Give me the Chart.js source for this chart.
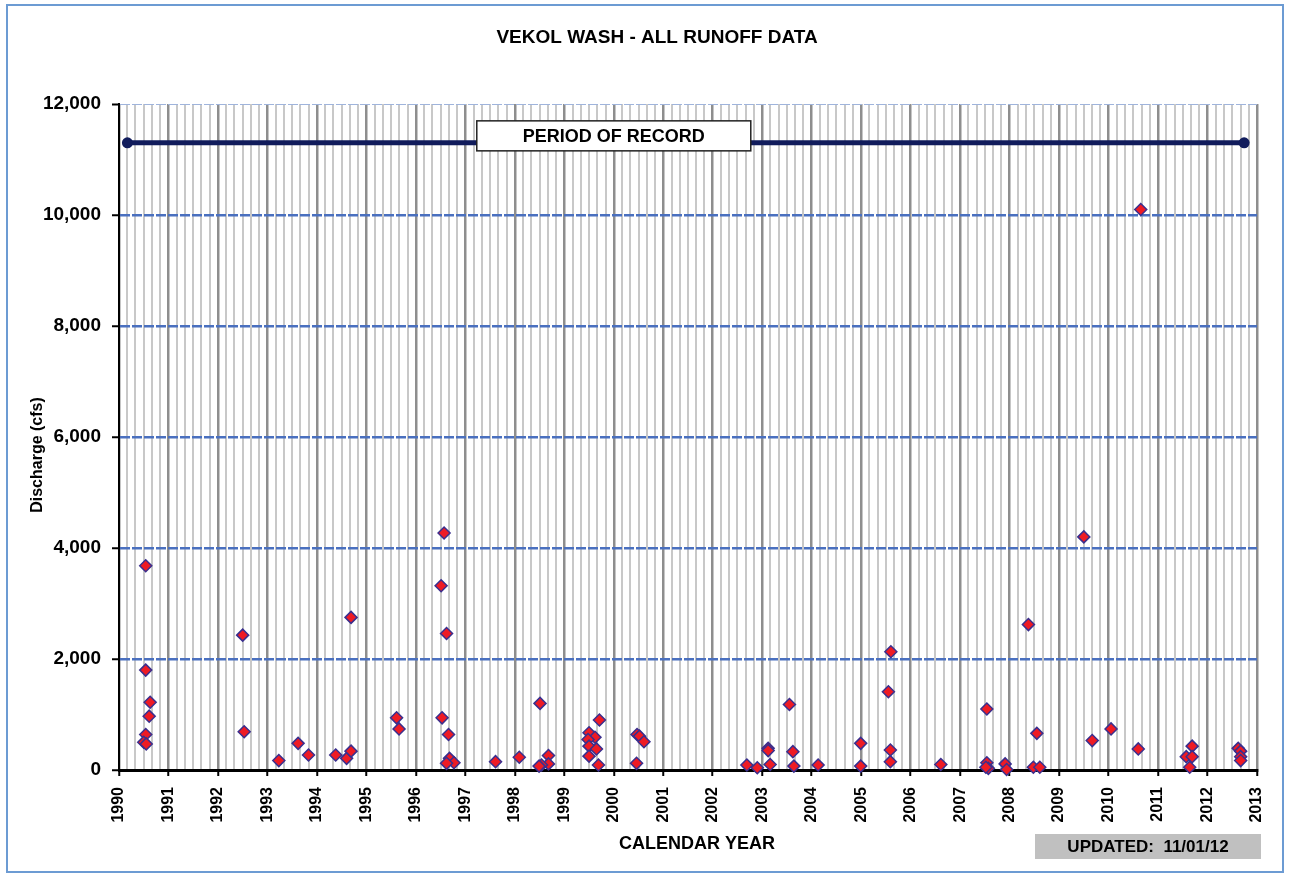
<!DOCTYPE html>
<html>
<head>
<meta charset="utf-8">
<title>Vekol Wash - All Runoff Data</title>
<script src="https://cdn.jsdelivr.net/npm/chart.js@4.4.1/dist/chart.umd.min.js"></script>
<style>
    html, body { margin: 0; padding: 0; background: #fff; }
    #wrap { position: relative; width: 1289px; height: 877px; }
    #frame { position: absolute; left: 6px; top: 4px; width: 1274px; height: 865px; border: 2px solid #6c9bd3; pointer-events: none; }
</style>
</head>
<body>
<div id="wrap">
    <canvas id="runoffChart" width="1289" height="877"></canvas>
    <div id="frame"></div>
</div>
<script>
// runoff events: decimal year and peak discharge (cfs)
const eventYears = [
    1990.54, 1990.54, 1990.63, 1990.61, 1990.54, 1990.50, 1990.55,
    1992.50, 1992.53,
    1993.23, 1993.62, 1993.83,
    1994.38, 1994.60, 1994.69, 1994.69,
    1995.61, 1995.66,
    1996.51, 1996.57, 1996.62, 1996.53, 1996.66, 1996.68, 1996.77, 1996.62,
    1997.61,
    1998.09, 1998.51, 1998.68, 1998.68, 1998.54, 1998.49,
    1999.71, 1999.50, 1999.62, 1999.48, 1999.50, 1999.65, 1999.50, 1999.69,
    2000.47, 2000.52, 2000.61, 2000.46,
    2002.69, 2002.90,
    2003.12, 2003.12, 2003.16, 2003.55, 2003.62, 2003.64,
    2004.13,
    2004.99, 2004.99,
    2005.60, 2005.55, 2005.59, 2005.59,
    2006.61,
    2007.54, 2007.54, 2007.57, 2007.52, 2007.91, 2007.94,
    2008.38, 2008.55, 2008.48, 2008.61,
    2009.50, 2009.67,
    2010.05, 2010.60, 2010.65,
    2011.57, 2011.69, 2011.69, 2011.64,
    2012.62, 2012.67, 2012.67, 2012.67
];
const peakFlows = [
    3680, 1800, 1220, 970, 640, 500, 470,
    2430, 690,
    170, 480, 270,
    270, 210, 340, 2750,
    940, 740,
    3320, 4270, 2460, 940, 640, 210, 130, 120,
    150,
    230, 1200, 260, 110, 90, 70,
    900, 670, 590, 550, 430, 380, 250, 90,
    640, 610, 510, 120,
    90, 40,
    390, 350, 100, 1180, 330, 70,
    90,
    480, 70,
    2130, 1410, 360, 150,
    100,
    1100, 130, 30, 50, 110, 10,
    2620, 660, 50, 50,
    4200, 530,
    740, 380, 10100,
    240, 430, 240, 50,
    390, 340, 240, 170
];

// period of record bar
const recordStart = 1990.17;
const recordEnd = 2012.74;
const recordLevel = 11300;
const recordLabelAt = 2000;

const firstYear = 1990;
const lastYear = 2013;
const yMax = 12000;
const yStep = 2000;

const chartTitle = 'VEKOL WASH - ALL RUNOFF DATA';
const xTitle = 'CALENDAR YEAR';
const yTitle = 'Discharge (cfs)';
const recordLabel = 'PERIOD OF RECORD';
const updatedText = 'UPDATED:  11/01/12';

const FONT = '"Liberation Sans", Arial, sans-serif';

const points = eventYears.map((yr, i) => ({x: yr, y: peakFlows[i]}));

// free text: title, axis titles, label boxes
const textPlugin = {
    id: 'textPlugin',
    afterDatasetsDraw(chart) {
        const ctx = chart.ctx;
        const xs = chart.scales.x;
        const ys = chart.scales.y;
        ctx.save();
        ctx.textAlign = 'center';
        ctx.textBaseline = 'middle';

        // box on the period bar
        const cx = xs.getPixelForValue(recordLabelAt);
        const cy = ys.getPixelForValue(recordLevel) - 7;
        ctx.font = 'bold 18px ' + FONT;
        const bw = 274, bh = 30;
        ctx.fillStyle = '#fff';
        ctx.fillRect(cx - bw / 2, cy - bh / 2, bw, bh);
        ctx.lineWidth = 1.5;
        ctx.strokeStyle = '#222';
        ctx.strokeRect(cx - bw / 2, cy - bh / 2, bw, bh);
        ctx.fillStyle = '#000';
        ctx.fillText(recordLabel, cx, cy + 1);

        // chart title
        ctx.font = 'bold 19px ' + FONT;
        ctx.fillText(chartTitle, 657, 38);

        // x axis title
        ctx.font = 'bold 18px ' + FONT;
        ctx.fillText(xTitle, 697, 844);

        // y axis title
        ctx.save();
        ctx.translate(38, 455);
        ctx.rotate(-Math.PI / 2);
        ctx.font = 'bold 16px ' + FONT;
        ctx.fillText(yTitle, 0, 0);
        ctx.restore();

        // updated stamp
        ctx.fillStyle = '#c0c0c0';
        ctx.fillRect(1035, 834, 226, 25);
        ctx.fillStyle = '#000';
        ctx.font = 'bold 17px ' + FONT;
        ctx.fillText(updatedText, 1148, 847);
        ctx.restore();
    }
};

const ctx = document.getElementById('runoffChart').getContext('2d');
const chart = new Chart(ctx, {
    type: 'scatter',
    data: {
        datasets: [
            {
                type: 'line',
                data: [{x: recordStart, y: recordLevel}, {x: recordEnd, y: recordLevel}],
                borderColor: '#111c5c',
                borderWidth: 5,
                pointRadius: 5.5,
                pointBackgroundColor: '#111c5c',
                pointBorderWidth: 0,
                clip: false
            },
            {
                data: points,
                pointStyle: 'rectRot',
                pointRadius: 6,
                pointBackgroundColor: '#ee1b24',
                pointBorderColor: '#3a2f8e',
                pointBorderWidth: 1.5,
                clip: false
            }
        ]
    },
    options: {
        responsive: false,
        animation: false,
        layout: {
            padding: {left: 0, top: 104, right: 32, bottom: 0}
        },
        plugins: {
            legend: {display: false},
            tooltip: {enabled: false},
            title: {display: false}
        },
        scales: {
            x: {
                type: 'linear',
                min: firstYear,
                max: lastYear,
                afterBuildTicks: (axis) => {
                    // one grid line every two months, labelled on whole years
                    const ticks = [];
                    for (let yr = firstYear; yr < lastYear; yr++) {
                        for (let m = 0; m < 6; m++) {
                            ticks.push({value: yr + m / 6});
                        }
                    }
                    ticks.push({value: lastYear});
                    axis.ticks = ticks;
                },
                afterFit: (axis) => { axis.height = 107; },
                ticks: {
                    autoSkip: false,
                    maxRotation: 90,
                    minRotation: 90,
                    padding: 11,
                    color: '#000',
                    font: {family: FONT, size: 16, weight: 'bold'},
                    callback: (v) => Number.isInteger(v) ? String(v) : ''
                },
                grid: {
                    color: (c) => Number.isInteger(c.tick.value) ? '#8e8e8e' : '#c8c8c8',
                    lineWidth: (c) => Number.isInteger(c.tick.value) ? 2.5 : 2,
                    tickColor: (c) => Number.isInteger(c.tick.value) ? '#000' : 'rgba(0,0,0,0)',
                    tickLength: 6,
                    tickWidth: 2
                },
                border: {color: '#000', width: 3}
            },
            y: {
                min: 0,
                max: yMax,
                afterFit: (axis) => { axis.width = 119; },
                ticks: {
                    stepSize: yStep,
                    padding: 11,
                    color: '#000',
                    font: {family: FONT, size: 19, weight: 'bold'},
                    callback: (v) => v.toLocaleString('en-US')
                },
                grid: {
                    color: (c) => c.tick.value === 0 ? 'rgba(0,0,0,0)' : (c.tick.value === yMax ? '#9fb4dc' : '#4a70bf'),
                    lineWidth: (c) => c.tick.value === yMax ? 1 : 2.5,
                    tickColor: '#000',
                    tickLength: 7,
                    tickWidth: 2
                },
                border: {color: '#000', width: 2, dash: [10, 2]}
            }
        }
    },
    plugins: [textPlugin]
});
</script>
</body>
</html>
